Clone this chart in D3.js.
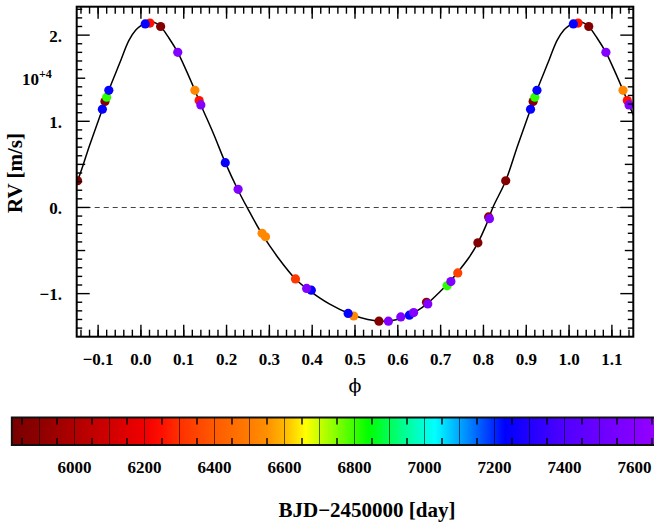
<!DOCTYPE html>
<html><head><meta charset="utf-8">
<script src="https://cdn.jsdelivr.net/npm/d3@7"></script>
<style>body{margin:0;background:#fff} svg{display:block}</style>
</head><body><svg id="c" width="654" height="528"></svg>
<script>
// ---- data (phase, RV in 10^4 m/s, BJD-2450000) ----
const ptPhase = [0.010,0.021,0.046,0.086,0.126,0.136,0.140,0.197,0.227,0.283,0.291,0.361,0.387,0.398,0.484,0.497,0.556,0.578,0.607,0.627,0.637,0.667,0.670,0.715,0.724,0.740,0.787,0.812,0.814,0.852,0.910,0.916,0.920,0.925];
const ptRV    = [2.13,2.14,2.10,1.80,1.36,1.24,1.19,0.52,0.21,-0.30,-0.34,-0.83,-0.94,-0.96,-1.23,-1.26,-1.32,-1.32,-1.27,-1.25,-1.22,-1.10,-1.12,-0.91,-0.86,-0.76,-0.41,-0.11,-0.13,0.31,1.14,1.23,1.28,1.36];
const ptBJD   = [7240,6250,5860,7590,6530,6250,7590,7240,7590,6530,6530,6320,7590,7240,7240,6530,5860,7590,7590,7240,7590,5900,7590,6810,7590,6340,5860,5900,7590,5860,7240,5860,6810,7240];

// model curve, one period
const curvePhase = [0.000,0.010,0.022,0.035,0.046,0.065,0.086,0.105,0.126,0.140,0.170,0.197,0.227,0.248,0.283,0.320,0.361,0.392,0.440,0.490,0.530,0.565,0.590,0.620,0.645,0.670,0.700,0.720,0.740,0.765,0.787,0.805,0.822,0.852,0.880,0.910,0.925,0.950,0.972,0.988];
const curveRV    = [2.11,2.14,2.155,2.14,2.10,1.97,1.80,1.60,1.36,1.19,0.85,0.52,0.20,0.00,-0.31,-0.58,-0.83,-0.96,-1.12,-1.24,-1.30,-1.32,-1.31,-1.26,-1.20,-1.11,-0.97,-0.87,-0.75,-0.59,-0.41,-0.22,0.00,0.31,0.72,1.14,1.36,1.67,1.94,2.06];

const xTickValues = [-0.1,0.0,0.1,0.2,0.3,0.4,0.5,0.6,0.7,0.8,0.9,1.0,1.1];
const xTickLabels = ["\u22120.1","0.0","0.1","0.2","0.3","0.4","0.5","0.6","0.7","0.8","0.9","1.0","1.1"];
const yTickValues = [-1,0,1,2];
const yTickLabels = ["\u22121.","0.","1.","2."];
const cbTickValues = [6000,6200,6400,6600,6800,7000,7200,7400,7600];
const cbTickLabels = ["6000","6200","6400","6600","6800","7000","7200","7400","7600"];
const cbStopDays   = [5820,5900,6000,6100,6200,6250,6300,6400,6500,6550,6600,6660,6700,6840,6940,7030,7130,7230,7400,7665];
const cbStopColors = ["#780000","#8e0000","#b00000","#d00000","#f00000","#ff1000","#ff3000","#ff5a00","#ff7c00","#ff9000","#ffb800","#ffff00","#c8ff00","#00ff00","#00ff90","#00ffff","#0080ff","#0000ff","#5000ff","#9600ff"];

// ---- layout ----
const svg = d3.select("#c");
const L = 76.7, R = 633.3, T = 6.7, B = 336.7;
const x = d3.scaleLinear().domain([-0.15, 1.15]).range([L, R]);
const y = d3.scaleLinear().domain([-1.5, 2.33]).range([B, T]);
const color = d3.scaleLinear().domain(cbStopDays).range(cbStopColors).clamp(true);
const FONT = "'Liberation Serif','Times New Roman',serif";

svg.append("defs").append("clipPath").attr("id","plotclip")
  .append("rect").attr("x",L).attr("y",T).attr("width",R-L).attr("height",B-T);

// zero line
svg.append("line").attr("x1",L).attr("x2",R).attr("y1",y(0)).attr("y2",y(0))
  .attr("stroke","#444").attr("stroke-width",1.1).attr("stroke-dasharray","5,4");

// curve
const cpts = [];
[-1,0,1].forEach(o => curvePhase.forEach((p,i) => cpts.push([p+o, curveRV[i]])));
cpts.sort((a,b)=>a[0]-b[0]);
const cdata = cpts.filter(d => d[0] > -0.25 && d[0] < 1.25);
svg.append("path").datum(cdata)
  .attr("clip-path","url(#plotclip)")
  .attr("d", d3.line().x(d=>x(d[0])).y(d=>y(d[1])).curve(d3.curveCatmullRom.alpha(0.5)))
  .attr("fill","none").attr("stroke","#000").attr("stroke-width",1.5);

// points (drawn in time order, repeated outside [0,1])
const pts = [];
ptPhase.forEach((p,i) => {
  pts.push({p:p, v:ptRV[i], t:ptBJD[i]});
  if (p < 0.15) pts.push({p:p+1, v:ptRV[i], t:ptBJD[i]});
  if (p > 0.85) pts.push({p:p-1, v:ptRV[i], t:ptBJD[i]});
});
pts.sort((a,b)=>a.t-b.t);
svg.append("g").attr("clip-path","url(#plotclip)").selectAll("circle").data(pts).join("circle")
  .attr("cx",d=>x(d.p)).attr("cy",d=>y(d.v)).attr("r",4.6).attr("fill",d=>color(d.t));

// ticks
const tg = svg.append("g").attr("stroke","#000").attr("stroke-width",1.4);
const xMinor = d3.range(-7, 58).map(i => i*0.02).filter(v => v > -0.15 && v < 1.15);
xMinor.forEach(v => {
  tg.append("line").attr("x1",x(v)).attr("x2",x(v)).attr("y1",B).attr("y2",B-7);
  tg.append("line").attr("x1",x(v)).attr("x2",x(v)).attr("y1",T).attr("y2",T+7);
});
xTickValues.forEach(v => {
  tg.append("line").attr("x1",x(v)).attr("x2",x(v)).attr("y1",B).attr("y2",B-12);
  tg.append("line").attr("x1",x(v)).attr("x2",x(v)).attr("y1",T).attr("y2",T+12);
});
const yMinor = d3.range(-14, 24).map(i => i/10);
yMinor.forEach(v => {
  const len = Math.abs(Math.round(v*10)) % 10 === 0 ? 13 : (Math.abs(Math.round(v*10)) % 5 === 0 ? 8.5 : 5.5);
  tg.append("line").attr("x1",L).attr("x2",L+len).attr("y1",y(v)).attr("y2",y(v));
  tg.append("line").attr("x1",R).attr("x2",R-len).attr("y1",y(v)).attr("y2",y(v));
});

// frame
svg.append("rect").attr("x",L).attr("y",T).attr("width",R-L).attr("height",B-T)
  .attr("fill","none").attr("stroke","#000").attr("stroke-width",2);

// tick labels
const lab = svg.append("g").attr("font-family",FONT).attr("font-weight","bold").attr("font-size",17).attr("fill","#000");
xTickValues.forEach((v,i) => lab.append("text").attr("x",x(v)).attr("y",365).attr("text-anchor","middle").text(xTickLabels[i]));
yTickValues.forEach((v,i) => lab.append("text").attr("x",62).attr("y",y(v)+6.5).attr("text-anchor","end").text(yTickLabels[i]));
const mult = lab.append("text").attr("x",22).attr("y",85);
mult.append("tspan").text("10");
mult.append("tspan").attr("font-size",12).attr("dy",-7).text("+4");

// axis titles
svg.append("text").attr("transform","translate(22,173) rotate(-90)").attr("text-anchor","middle")
  .attr("font-family",FONT).attr("font-weight","bold").attr("font-size",21).text("RV [m/s]");
svg.append("text").attr("x",355).attr("y",392).attr("text-anchor","middle")
  .attr("font-family","'DejaVu Serif',serif").attr("font-size",19).text("\u03D5");

// colorbar
const cbx = d3.scaleLinear().domain([6000,7600]).range([74.5,634.5]);
const cbT = 417.5, cbH = 27.5, cbL = cbx(5821), cbR = cbx(7665);
const grad = svg.select("defs").append("linearGradient").attr("id","cbg")
  .attr("gradientUnits","userSpaceOnUse").attr("x1",cbL).attr("x2",cbR).attr("y1",0).attr("y2",0);
cbStopDays.forEach((d,i) => grad.append("stop").attr("offset",(cbx(d)-cbL)/(cbR-cbL)).attr("stop-color",cbStopColors[i]));
svg.append("rect").attr("x",cbL).attr("y",cbT).attr("width",cbR-cbL).attr("height",cbH).attr("fill","url(#cbg)");
const cg = svg.append("g").attr("stroke","#000");
d3.range(5900, 7700, 100).forEach(d => {
  cg.append("line").attr("x1",cbx(d)).attr("x2",cbx(d)).attr("y1",cbT).attr("y2",cbT+cbH).attr("stroke-width",0.8).attr("stroke-opacity",0.75);
});
d3.range(5850, 7700, 100).forEach(d => {
  cg.append("line").attr("x1",cbx(d)).attr("x2",cbx(d)).attr("y1",cbT).attr("y2",cbT+7).attr("stroke-width",1.4);
  cg.append("line").attr("x1",cbx(d)).attr("x2",cbx(d)).attr("y1",cbT+cbH).attr("y2",cbT+cbH-7).attr("stroke-width",1.4);
});
svg.append("rect").attr("x",cbL).attr("y",cbT).attr("width",cbR-cbL).attr("height",cbH)
  .attr("fill","none").attr("stroke","#111").attr("stroke-width",2);
cbTickValues.forEach((v,i) => lab.append("text").attr("x",cbx(v)).attr("y",472.5).attr("text-anchor","middle").text(cbTickLabels[i]));
svg.append("text").attr("x",367).attr("y",517).attr("text-anchor","middle")
  .attr("font-family",FONT).attr("font-weight","bold").attr("font-size",21).text("BJD\u22122450000 [day]");
</script></body></html>
